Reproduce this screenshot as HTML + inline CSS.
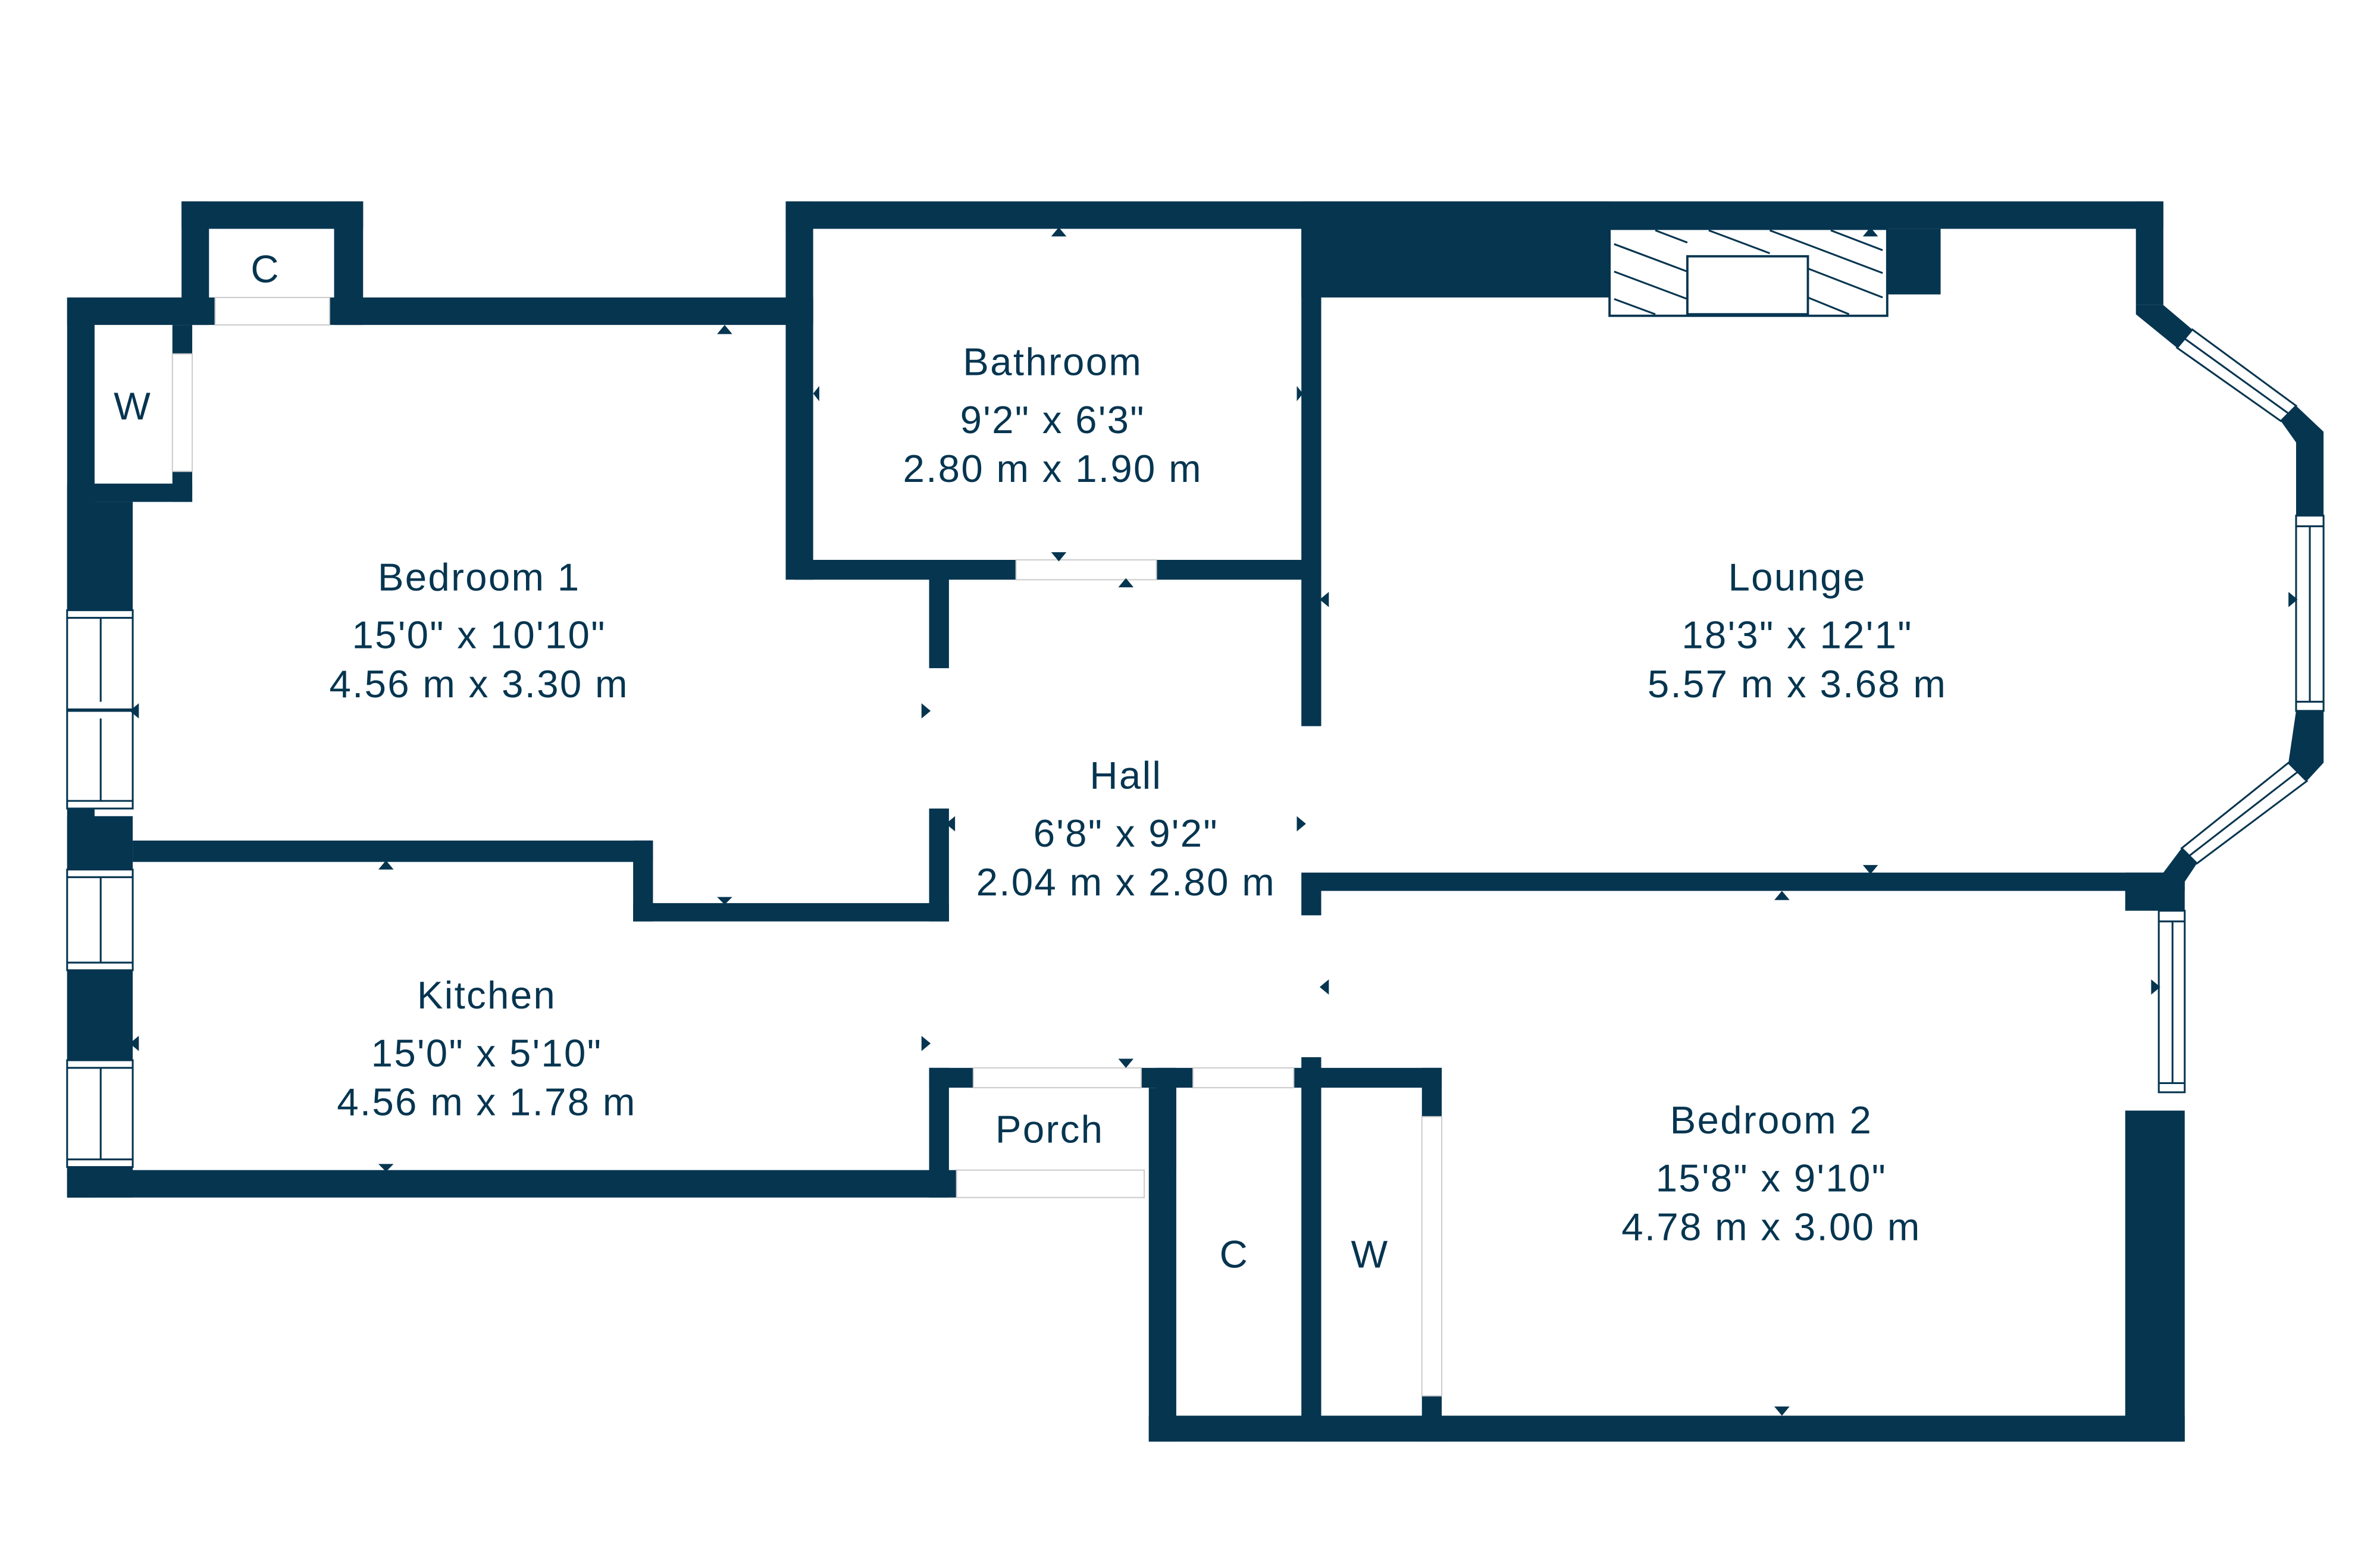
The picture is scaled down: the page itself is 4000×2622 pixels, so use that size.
<!DOCTYPE html>
<html><head><meta charset="utf-8"><style>
html,body{margin:0;padding:0;background:#fff;}
svg{display:block}
text{font-family:"Liberation Sans",sans-serif;fill:#063550;font-size:25.5px;letter-spacing:0.9px;text-anchor:middle}
</style></head><body>
<svg width="4000" height="2622" viewBox="0 0 1560 1022.6" preserveAspectRatio="none" xmlns="http://www.w3.org/2000/svg">
<g fill="#063550">
<rect x="119" y="132" width="119" height="18"/>
<rect x="119" y="132" width="18" height="81"/>
<rect x="219" y="132" width="19" height="81"/>
<rect x="44" y="195" width="97" height="18"/>
<rect x="216" y="195" width="317" height="18"/>
<rect x="44" y="195" width="18" height="590"/>
<rect x="44" y="317" width="82" height="12"/>
<rect x="113" y="213" width="13" height="19"/>
<rect x="113" y="309" width="13" height="20"/>
<rect x="44" y="329" width="43" height="71"/>
<rect x="44" y="535" width="43" height="35"/>
<rect x="44" y="636" width="43" height="59"/>
<rect x="44" y="765" width="43" height="20"/>
<rect x="87" y="551" width="341" height="14"/>
<rect x="415" y="551" width="13" height="53"/>
<rect x="415" y="592" width="207" height="12"/>
<rect x="44" y="767" width="583" height="18"/>
<rect x="609" y="378" width="13" height="60"/>
<rect x="609" y="530" width="13" height="74"/>
<rect x="609" y="700" width="13" height="85"/>
<rect x="515" y="132" width="903" height="18"/>
<rect x="515" y="132" width="18" height="248"/>
<rect x="521" y="367" width="145" height="13"/>
<rect x="758" y="367" width="108" height="13"/>
<rect x="853" y="132" width="13" height="344"/>
<rect x="853" y="572" width="13" height="28"/>
<rect x="853" y="693" width="13" height="252"/>
<rect x="853" y="132" width="202" height="63"/>
<rect x="1237" y="150" width="35" height="43"/>
<rect x="1400" y="132" width="18" height="68"/>
<polygon points="1400,200 1418,200 1437,216 1427,228 1400,206"/>
<polygon points="1495,276 1505,266 1523,283 1505,290"/>
<rect x="1505" y="283" width="18" height="55"/>
<rect x="1505" y="466" width="18" height="34"/>
<polygon points="1505,466 1523,466 1523,500 1512,512 1500,500"/>
<polygon points="1430,556 1440,566 1432,578 1418,578 1418,572"/>
<rect x="866" y="572" width="566" height="12"/>
<rect x="1393" y="572" width="39" height="25"/>
<rect x="1393" y="728" width="39" height="217"/>
<rect x="753" y="928" width="679" height="17"/>
<rect x="609" y="700" width="29" height="13"/>
<rect x="748" y="700" width="34" height="13"/>
<rect x="758" y="700" width="13" height="67"/>
<rect x="753" y="713" width="18" height="232"/>
<rect x="848" y="700" width="97" height="13"/>
<rect x="932" y="700" width="13" height="32"/>
<rect x="932" y="915" width="13" height="30"/>
</g>
<g fill="#fff" stroke="#063550" stroke-width="1.2">
<rect x="44" y="400" width="43" height="65"/><rect x="44" y="466" width="43" height="64"/>
<rect x="44" y="570" width="43" height="66"/><rect x="44" y="695" width="43" height="70"/>
<rect x="1505" y="338" width="18" height="128"/>
<rect x="1415" y="597" width="17" height="119"/>
</g>
<g stroke="#063550" stroke-width="1.2">
<line x1="66" y1="405" x2="66" y2="460"/><line x1="66" y1="471" x2="66" y2="525"/>
<line x1="66" y1="575" x2="66" y2="631"/><line x1="66" y1="700" x2="66" y2="760"/>
<line x1="44" y1="405" x2="87" y2="405"/><line x1="44" y1="525" x2="87" y2="525"/>
<line x1="44" y1="575" x2="87" y2="575"/><line x1="44" y1="631" x2="87" y2="631"/>
<line x1="44" y1="700" x2="87" y2="700"/><line x1="44" y1="760" x2="87" y2="760"/>
<line x1="1514" y1="345" x2="1514" y2="460"/><line x1="1505" y1="345" x2="1523" y2="345"/><line x1="1505" y1="460" x2="1523" y2="460"/>
<line x1="1424" y1="604" x2="1424" y2="710"/><line x1="1415" y1="604" x2="1432" y2="604"/><line x1="1415" y1="710" x2="1432" y2="710"/>
</g>
<g fill="#fff" stroke="#063550" stroke-width="1.2">
<polygon points="1427,228 1437,216 1505,266 1495,276"/>
<polygon points="1430,556 1440,566 1512,512 1500,500"/>
</g>
<g stroke="#063550" stroke-width="1.2">
<line x1="1432" y1="222" x2="1500" y2="271"/><line x1="1435" y1="561" x2="1506" y2="506"/>
</g>
<rect x="1055" y="150" width="182" height="57" fill="#fff" stroke="#063550" stroke-width="1.5"/>
<g stroke="#063550" stroke-width="1.2">
<line x1="1058" y1="160" x2="1106" y2="178"/><line x1="1058" y1="178" x2="1106" y2="196"/><line x1="1058" y1="196" x2="1085" y2="206"/>
<line x1="1085" y1="151" x2="1106" y2="159"/><line x1="1120" y1="151" x2="1160" y2="166"/>
<line x1="1160" y1="151" x2="1234" y2="179"/><line x1="1200" y1="151" x2="1234" y2="164"/>
<line x1="1185" y1="176" x2="1234" y2="195"/><line x1="1185" y1="195" x2="1212" y2="206"/>
</g>
<rect x="1106" y="168" width="79" height="38" fill="#fff" stroke="#063550" stroke-width="1.5"/>
<g fill="#fff" stroke="#ccc" stroke-width="0.8">
<rect x="666" y="367" width="92" height="13"/>
<rect x="638" y="700" width="110" height="13"/>
<rect x="782" y="700" width="66" height="13"/>
<rect x="627" y="767" width="123" height="18"/>
<rect x="141" y="195" width="75" height="18"/>
<rect x="113" y="232" width="13" height="77"/>
<rect x="932" y="732" width="13" height="183"/>
</g>
<g fill="#063550">
<polygon points="470,219 480,219 475,213"/><polygon points="689,155 699,155 694,149"/>
<polygon points="689,362 699,362 694,368"/><polygon points="733,385 743,385 738,379"/>
<polygon points="537,253 537,263 533,258"/><polygon points="850,253 850,263 854,258"/>
<polygon points="91,461 91,471 85,466"/><polygon points="604,461 604,471 610,466"/>
<polygon points="248,570 258,570 253,564"/><polygon points="470,588 480,588 475,593"/>
<polygon points="91,679 91,689 85,684"/><polygon points="604,679 604,689 610,684"/>
<polygon points="248,763 258,763 253,768"/><polygon points="626,535 626,545 620,540"/>
<polygon points="850,535 850,545 856,540"/><polygon points="733,694 743,694 738,700"/>
<polygon points="871,388 871,398 865,393"/><polygon points="1500,388 1500,398 1506,393"/>
<polygon points="1221,567 1231,567 1226,573"/><polygon points="1163,590 1173,590 1168,584"/>
<polygon points="1221,155 1231,155 1226,149"/><polygon points="871,642 871,652 865,647"/>
<polygon points="1410,642 1410,652 1416,647"/><polygon points="1163,922 1173,922 1168,928"/>
</g>
<text x="174" y="185">C</text>
<text x="87" y="275">W</text>
<text x="690" y="246">Bathroom</text><text x="690" y="284">9'2" x 6'3"</text><text x="690" y="316">2.80 m x 1.90 m</text>
<text x="314" y="387">Bedroom 1</text><text x="314" y="425">15'0" x 10'10"</text><text x="314" y="457">4.56 m x 3.30 m</text>
<text x="738" y="517">Hall</text><text x="738" y="555">6'8" x 9'2"</text><text x="738" y="587">2.04 m x 2.80 m</text>
<text x="1178" y="387">Lounge</text><text x="1178" y="425">18'3" x 12'1"</text><text x="1178" y="457">5.57 m x 3.68 m</text>
<text x="319" y="661">Kitchen</text><text x="319" y="699">15'0" x 5'10"</text><text x="319" y="731">4.56 m x 1.78 m</text>
<text x="1161" y="743">Bedroom 2</text><text x="1161" y="781">15'8" x 9'10"</text><text x="1161" y="813">4.78 m x 3.00 m</text>
<text x="688" y="749">Porch</text>
<text x="809" y="831">C</text>
<text x="898" y="831">W</text>
</svg>
</body></html>
